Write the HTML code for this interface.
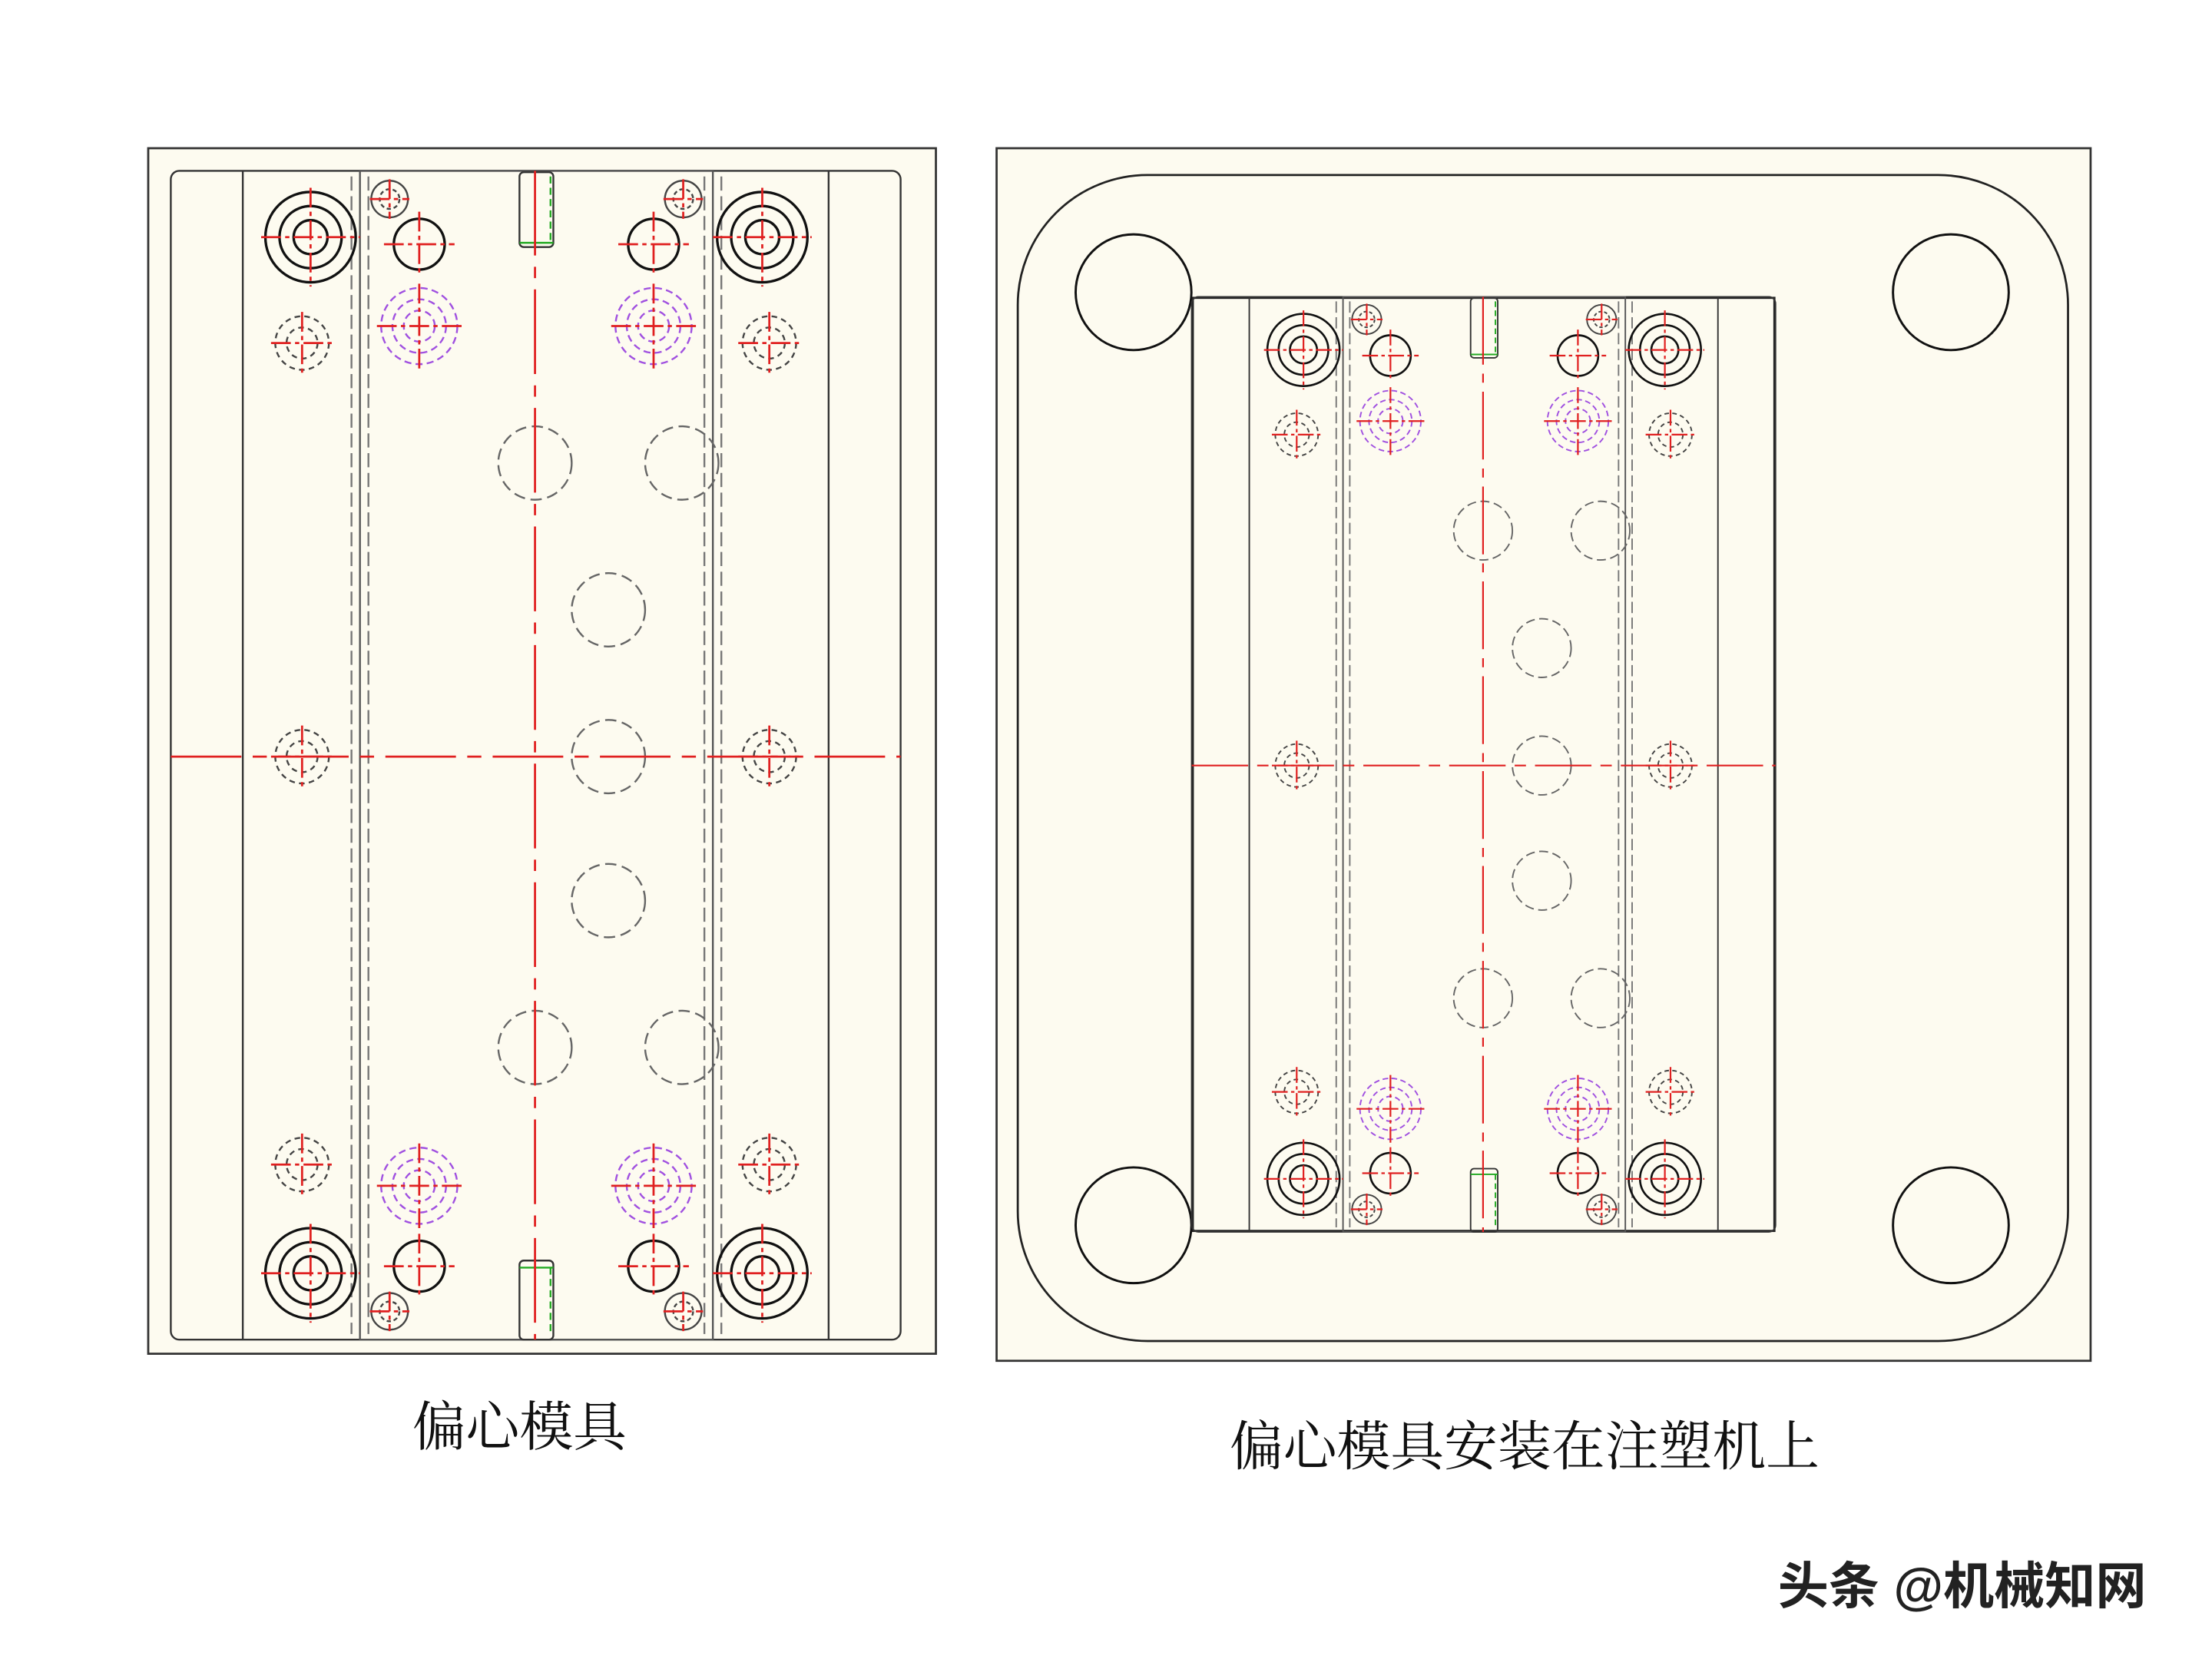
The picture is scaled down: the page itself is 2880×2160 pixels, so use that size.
<!DOCTYPE html>
<html><head><meta charset="utf-8"><style>
html,body{margin:0;padding:0;background:#fff;}
svg{display:block;}
.serif{font-family:"Liberation Serif","Noto Serif CJK SC",serif;}
</style></head><body>
<svg width="2880" height="2160" viewBox="0 0 1567 1175" preserveAspectRatio="xMinYMin meet" xmlns="http://www.w3.org/2000/svg">
<defs>
<g id="mold" fill="none" stroke-width="1.3">
  <rect x="121" y="121" width="517" height="828" rx="6" stroke="#333"/>
  <line x1="172" y1="121" x2="172" y2="949" stroke="#333"/>
  <line x1="587" y1="121" x2="587" y2="949" stroke="#333"/>
  <rect x="255" y="121" width="250" height="828" stroke="#555"/>
  <g stroke="#777" stroke-dasharray="10,4">
    <line x1="249" y1="125" x2="249" y2="945"/><line x1="261" y1="125" x2="261" y2="945"/>
    <line x1="499" y1="125" x2="499" y2="945"/><line x1="511" y1="125" x2="511" y2="945"/>
  </g>
  <rect x="368" y="122" width="24" height="53" rx="3" stroke="#333"/>
  <line x1="390" y1="125" x2="390" y2="172" stroke="#2a2" stroke-dasharray="5,3"/>
  <line x1="368" y1="172" x2="392" y2="172" stroke="#2a2"/>
  <rect x="368" y="893" width="24" height="56" rx="3" stroke="#333"/>
  <line x1="390" y1="898" x2="390" y2="945" stroke="#2a2" stroke-dasharray="5,3"/>
  <line x1="368" y1="898" x2="392" y2="898" stroke="#2a2"/>
  <g stroke="#111" stroke-width="1.8">
    <circle cx="220" cy="168" r="32"/><circle cx="220" cy="168" r="22"/><circle cx="220" cy="168" r="12"/>
    <circle cx="540" cy="168" r="32"/><circle cx="540" cy="168" r="22"/><circle cx="540" cy="168" r="12"/>
    <circle cx="220" cy="902" r="32"/><circle cx="220" cy="902" r="22"/><circle cx="220" cy="902" r="12"/>
    <circle cx="540" cy="902" r="32"/><circle cx="540" cy="902" r="22"/><circle cx="540" cy="902" r="12"/>
    <circle cx="297" cy="173" r="18"/><circle cx="463" cy="173" r="18"/>
    <circle cx="297" cy="897" r="18"/><circle cx="463" cy="897" r="18"/>
  </g>
  <g stroke="#444">
    <circle cx="276" cy="141" r="13"/><circle cx="484" cy="141" r="13"/>
    <circle cx="276" cy="929" r="13"/><circle cx="484" cy="929" r="13"/>
    <circle cx="276" cy="141" r="7" stroke-dasharray="3,2"/><circle cx="484" cy="141" r="7" stroke-dasharray="3,2"/>
    <circle cx="276" cy="929" r="7" stroke-dasharray="3,2"/><circle cx="484" cy="929" r="7" stroke-dasharray="3,2"/>
  </g>
  <g stroke="#444" stroke-dasharray="4,3">
    <circle cx="214" cy="243" r="19"/><circle cx="545" cy="243" r="19"/>
    <circle cx="214" cy="536" r="19"/><circle cx="545" cy="536" r="19"/>
    <circle cx="214" cy="825" r="19"/><circle cx="545" cy="825" r="19"/>
    <circle cx="214" cy="243" r="11"/><circle cx="545" cy="243" r="11"/>
    <circle cx="214" cy="536" r="11"/><circle cx="545" cy="536" r="11"/>
    <circle cx="214" cy="825" r="11"/><circle cx="545" cy="825" r="11"/>
  </g>
  <g stroke="#a050e0" stroke-dasharray="5,3">
    <circle cx="297" cy="231" r="27"/><circle cx="297" cy="231" r="19"/><circle cx="297" cy="231" r="11"/>
    <circle cx="463" cy="231" r="27"/><circle cx="463" cy="231" r="19"/><circle cx="463" cy="231" r="11"/>
    <circle cx="297" cy="840" r="27"/><circle cx="297" cy="840" r="19"/><circle cx="297" cy="840" r="11"/>
    <circle cx="463" cy="840" r="27"/><circle cx="463" cy="840" r="19"/><circle cx="463" cy="840" r="11"/>
  </g>
  <g stroke="#666" stroke-dasharray="8,4">
    <circle cx="379" cy="328" r="26"/><circle cx="483" cy="328" r="26"/>
    <circle cx="431" cy="432" r="26"/><circle cx="431" cy="536" r="26"/><circle cx="431" cy="638" r="26"/>
    <circle cx="379" cy="742" r="26"/><circle cx="483" cy="742" r="26"/>
  </g>
  <g stroke="#e02020" stroke-width="1.5">
    <line x1="379" y1="121" x2="379" y2="949" stroke-dasharray="60,8,8,8"/>
    <line x1="121" y1="536" x2="638" y2="536" stroke-dasharray="50,8,10,8"/>
    <g stroke-dasharray="14,3,3,3">
    <path d="M185 168h70M220 133v70M505 168h70M540 133v70M185 902h70M220 867v70M505 902h70M540 867v70"/>
    <path d="M272 173h50M297 150v46M438 173h50M463 150v46M272 897h50M297 874v46M438 897h50M463 874v46"/>
    <path d="M262 141h28M276 127v28M470 141h28M484 127v28M262 929h28M276 915v28M470 929h28M484 915v28"/>
    <path d="M192 243h44M214 221v44M523 243h44M545 221v44M192 536h44M214 514v44M523 536h44M545 514v44M192 825h44M214 803v44M523 825h44M545 803v44"/>
    <path d="M267 231h60M297 201v60M433 231h60M463 201v60M267 840h60M297 810v60M433 840h60M463 810v60"/>
    </g>
  </g>
</g>
</defs>
<rect width="1567" height="1175" fill="#fff"/>
<rect x="105" y="105" width="558" height="854" fill="#fdfbf0" stroke="#333" stroke-width="1.5"/>
<use href="#mold"/>
<rect x="706" y="105" width="775" height="859" fill="#fdfbf0" stroke="#333" stroke-width="1.5"/>
<rect x="721" y="124" width="744" height="826" rx="92" fill="none" stroke="#222" stroke-width="1.5"/>
<rect x="845" y="211" width="412" height="661" fill="#fdfbf0" stroke="#222" stroke-width="1.5"/>
<g fill="#fdfbf0" stroke="#111" stroke-width="1.6">
  <circle cx="803" cy="207" r="41"/><circle cx="1382" cy="207" r="41"/>
  <circle cx="803" cy="868" r="41"/><circle cx="1382" cy="868" r="41"/>
</g>
<use href="#mold" transform="translate(1051,541.5) scale(0.8) translate(-379.5,-535)"/>
<text class="serif" x="368" y="1024" font-size="38" text-anchor="middle" fill="#111">偏心模具</text>
<text class="serif" x="1080" y="1038" font-size="38" text-anchor="middle" fill="#111">偏心模具安装在注塑机上</text>
<text x="1390" y="1136" font-size="36" font-weight="bold" text-anchor="middle" fill="#222" style="font-family:'Liberation Sans','Noto Sans CJK SC',sans-serif">头条 @机械知网</text>
</svg>
</body></html>
